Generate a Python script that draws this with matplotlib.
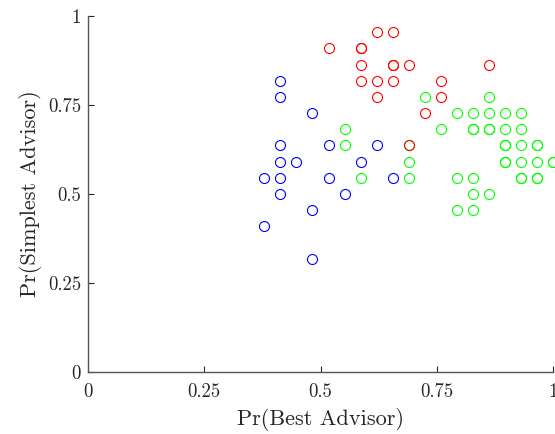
import matplotlib
matplotlib.use("Agg")
import matplotlib.pyplot as plt
import numpy as np

plt.rcParams['font.family'] = 'serif'
plt.rcParams['font.serif'] = ['cmr10']
plt.rcParams['mathtext.fontset'] = 'cm'
plt.rcParams['axes.formatter.use_mathtext'] = True

# values: x = kx/29, y = ky/22
blue_kx = [11, 11, 12, 12, 12, 12, 12, 12, 13, 14, 14, 14, 15, 15, 16, 17, 18, 19]
blue_ky = [12, 9, 18, 17, 14, 13, 12, 11, 13, 16, 10, 7, 14, 12, 11, 13, 14, 12]

green_kx = [16, 16, 17, 20, 20, 20, 21, 22, 23, 23, 23, 24, 24, 24, 24, 24, 24,
            25, 25, 25, 25, 25, 26, 26, 26, 26, 26, 26, 27, 27, 27, 27, 27, 27,
            28, 28, 28, 28, 28, 29, 29]
green_ky = [15, 14, 12, 14, 13, 12, 17, 15, 16, 12, 10, 16, 15, 15, 12, 11, 10,
            17, 16, 15, 15, 11, 16, 15, 14, 14, 13, 13, 16, 15, 14, 13, 12, 12,
            14, 14, 13, 12, 12, 13, 13]

red_kx = [18, 19, 15, 17, 17, 17, 19, 19, 20, 25, 17, 18, 19, 22, 18, 22, 21, 20]
red_ky = [21, 21, 20, 20, 20, 19, 19, 19, 19, 19, 18, 18, 18, 18, 17, 17, 16, 14]

xticks = [0, 0.25, 0.5, 0.75, 1]
xtick_labels = ['0', '0.25', '0.5', '0.75', '1']
yticks = [0, 0.25, 0.5, 0.75, 1]
ytick_labels = ['0', '0.25', '0.5', '0.75', '1']

fig = plt.figure(figsize=(5.55, 4.34), dpi=100)
ax = fig.add_axes([88/555, 62/434, (553-88)/555, (372-16)/434])

def plot_group(kx, ky, color):
    x = np.array(kx) / 29.0
    y = np.array(ky) / 22.0
    ax.plot(x, y, linestyle='none', marker='o', markersize=7.2,
            markerfacecolor='none', markeredgecolor=color,
            markeredgewidth=0.8, clip_on=False)

plot_group(blue_kx, blue_ky, '#0000FF')
plot_group(green_kx, green_ky, '#00FF00')
plot_group(red_kx, red_ky, '#FF0000')

ax.set_xlim(0, 1)
ax.set_ylim(0, 1)
ax.set_xticks(xticks)
ax.set_xticklabels(xtick_labels)
ax.set_yticks(yticks)
ax.set_yticklabels(ytick_labels)
ax.spines['top'].set_visible(False)
ax.spines['right'].set_visible(False)
for s in ['left', 'bottom']:
    ax.spines[s].set_color('#555555')
    ax.spines[s].set_linewidth(1.0)
ax.tick_params(direction='in', length=4, width=0.8, color='#262626',
               labelsize=13.5, labelcolor='#262626')
ax.tick_params(axis='x', pad=8)
ax.tick_params(axis='y', pad=5)
ax.set_xlabel('Pr(Best Advisor)', fontsize=16, color='#262626', labelpad=5)
ax.set_ylabel('Pr(Simplest Advisor)', fontsize=16, color='#262626', labelpad=4)

fig.savefig('out.png', dpi=100)
